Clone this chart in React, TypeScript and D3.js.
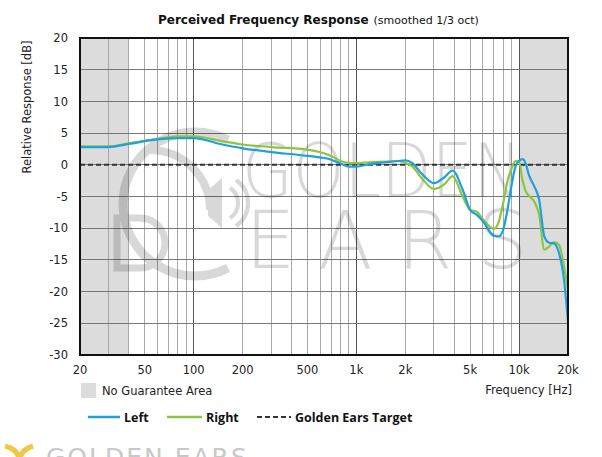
import React from 'react';
import * as d3 from 'd3';

// Frequencies (Hz) the curves are read at
const freqs = [20, 30, 40, 60, 80, 100, 150, 200, 300, 500, 700, 800, 900, 1000, 1200, 1500, 1800, 2000, 2200, 2500,
  3000, 3500, 3900, 4500, 5000, 5500, 6000, 7000, 7500, 8000, 8500, 9000, 9500, 10000, 10500,
  11000, 11500, 12400, 13300, 14300, 15300, 16400, 17600, 18900, 20000];

const leftDb = [2.8, 2.8, 3.3, 4.0, 4.2, 4.2, 3.2, 2.6, 2.0, 1.4, 0.8, 0.2, -0.3, -0.3, 0.1, 0.4, 0.6, 0.7, 0.3, -1.3,
  -2.9, -1.9, -0.9, -3.9, -7.1, -7.9, -8.9, -11.2, -11.3, -10.2, -7.0, -3.2, -0.3, 0.6, 0.9,
  0.2, -1.6, -3.4, -5.5, -11.3, -12.3, -12.4, -13.9, -18.1, -24.7];

const rightDb = [2.9, 2.9, 3.4, 4.1, 4.5, 4.5, 3.7, 3.2, 2.8, 2.4, 1.4, 0.6, 0.3, 0.25, 0.4, 0.5, 0.6, 0.3, -0.2, -2.0,
  -3.8, -3.0, -1.8, -5.0, -7.1, -7.4, -8.6, -10.1, -9.0, -6.0, -2.5, -0.6, 0.6, 0.5, -2.4,
  -4.2, -4.9, -5.8, -7.9, -13.4, -12.9, -12.2, -12.6, -16.0, -19.7];

const xTicks = [20, 50, 100, 200, 500, 1000, 2000, 5000, 10000, 20000];
const xTickLabels = ['20', '50', '100', '200', '500', '1k', '2k', '5k', '10k', '20k'];
const yTicks = [20, 15, 10, 5, 0, -5, -10, -15, -20, -25, -30];

// no guarantee bands
const bands = [[20, 40], [10000, 20000]];

const BLUE = '#1fa0dd';
const GREEN = '#8cc63f';
const FONT = 'DejaVu Sans, Verdana, sans-serif';

export default function App() {
  const margin = { top: 38, left: 80, right: 34, bottom: 102 };
  const W = 602, H = 457;
  const x = d3.scaleLog().domain([20, 20000]).range([margin.left, W - margin.right]);
  const y = d3.scaleLinear().domain([-30, 20]).range([H - margin.bottom, margin.top]);

  // every 1..9 x decade line
  const gridX: number[] = [];
  [10, 100, 1000, 10000].forEach(dec => {
    for (let m = 1; m <= 9; m++) {
      const f = dec * m;
      if (f > 20 && f < 20000) gridX.push(f);
    }
  });

  const line = d3.line<[number, number]>()
    .x(d => x(d[0]))
    .y(d => y(d[1]))
    .curve(d3.curveMonotoneX);

  const leftPath = line(freqs.map((f, i) => [f, leftDb[i]]));
  const rightPath = line(freqs.map((f, i) => [f, rightDb[i]]));

  const [x0, x1] = x.range();
  const [y1, y0] = y.range();

  return (
    <div style={{ position: 'fixed', left: 0, top: 0 }}>
      <svg width={W} height={H} style={{ display: 'block', background: '#fff' }}>
        <defs>
          <clipPath id="plot-clip">
            <rect x={x0} y={y0} width={x1 - x0} height={y1 - y0} />
          </clipPath>
        </defs>

        {/* title */}
        <text x={158} y={24} fontFamily={FONT} fontSize={12} fill="#111">
          <tspan fontWeight="bold">Perceived Frequency Response</tspan>
          <tspan fontSize={11} dx={5}>(smoothed 1/3 oct)</tspan>
        </text>

        {/* no guarantee areas */}
        {bands.map(([a, b], i) => (
          <rect key={i} x={x(a)} y={y0} width={x(b) - x(a)} height={y1 - y0} fill="#dcdcdc" />
        ))}

        {/* grid */}
        {gridX.map(f => {
          const major = f === 100 || f === 1000 || f === 10000;
          return (
            <line key={f} x1={x(f)} x2={x(f)} y1={y0} y2={y1}
              stroke={major ? '#555' : '#a8a8a8'} strokeWidth={1} shapeRendering="crispEdges" />
          );
        })}
        {yTicks.map(t => (
          <line key={t} x1={x0} x2={x1} y1={y(t)} y2={y(t)}
            stroke="#777" strokeWidth={1} shapeRendering="crispEdges" />
        ))}

        {/* watermark */}
        <g clipPath="url(#plot-clip)" fill="#000" opacity={0.15} fontFamily={FONT} fontWeight={200}>
          <text x={242} y={197} fontSize={74} textLength={280} lengthAdjust="spacingAndGlyphs">GOLDEN</text>
          <text x={245} y={268} fontSize={80}>E</text>
          <text x={318} y={268} fontSize={80}>A</text>
          <text x={397} y={268} fontSize={80}>R</text>
          <text x={477} y={268} fontSize={80}>S</text>
          <path d="M117,218 L140,218 A25,25 0 0,1 140,268 L117,268 Z" fill="none" stroke="#000" strokeWidth={7} />
          <path d="M228,140 A72,72 0 1,0 228,268" fill="none" stroke="#000" strokeWidth={9} />
          <path d="M150,150 A60,60 0 0,1 210,210" fill="none" stroke="#000" strokeWidth={8} />
          <path d="M208,190 L222,178 L222,228 L208,216 Z" />
          <path d="M230,188 A18,18 0 0,1 230,218" fill="none" stroke="#000" strokeWidth={4} />
          <path d="M236,180 A28,28 0 0,1 236,226" fill="none" stroke="#000" strokeWidth={4} />
        </g>

        {/* target */}
        <line x1={x0} x2={x1} y1={y(0)} y2={y(0)} stroke="#333" strokeWidth={2} strokeDasharray="5,3" />

        {/* curves */}
        <g clipPath="url(#plot-clip)">
          <path d={rightPath ?? ''} fill="none" stroke={GREEN} strokeWidth={2.2} />
          <path d={leftPath ?? ''} fill="none" stroke={BLUE} strokeWidth={2.2} />
        </g>

        {/* frame */}
        <rect x={x0} y={y0} width={x1 - x0} height={y1 - y0} fill="none" stroke="#111" strokeWidth={1.2} shapeRendering="crispEdges" />

        {/* axes labels */}
        {yTicks.map(t => (
          <text key={t} x={x0 - 12} y={y(t)} dy="0.36em" textAnchor="end" fontFamily={FONT} fontSize={11.5} fill="#222">{t}</text>
        ))}
        {xTicks.map((f, i) => (
          <text key={f} x={x(f)} y={374} textAnchor="middle" fontFamily={FONT} fontSize={11.5} fill="#222">{xTickLabels[i]}</text>
        ))}
        <text transform="translate(31,107) rotate(-90)" textAnchor="middle" fontFamily={FONT} fontSize={11.5} fill="#222">Relative Response [dB]</text>
        <text x={572} y={394} textAnchor="end" fontFamily={FONT} fontSize={11.5} fill="#222">Frequency [Hz]</text>

        {/* no guarantee legend */}
        <rect x={81} y={383} width={15} height={15} fill="#dcdcdc" />
        <text x={102} y={395} fontFamily={FONT} fontSize={11.5} fill="#222">No Guarantee Area</text>

        {/* series legend */}
        <g fontFamily="Open Sans, sans-serif" fontWeight="bold" fontSize={12.5} fill="#111">
          <line x1={88} x2={120} y1={417} y2={417} stroke={BLUE} strokeWidth={2.5} />
          <text x={124} y={421.5}>Left</text>
          <line x1={167} x2={202} y1={417} y2={417} stroke={GREEN} strokeWidth={2.5} />
          <text x={206} y={421.5}>Right</text>
          <line x1={257} x2={291} y1={417} y2={417} stroke="#333" strokeWidth={2} strokeDasharray="5,3" />
          <text x={295} y={421.5}>Golden Ears Target</text>
        </g>

        {/* footer logo */}
        <path d="M5,446 Q20,450 19,462 M33,446 Q20,450 19,462" fill="none" stroke="#f2c744" strokeWidth={5} />
        <text x={46} y={466} fontFamily={FONT} fontSize={25} fill="#c8c8c8" letterSpacing={2}>GOLDEN EARS</text>
      </svg>
    </div>
  );
}
